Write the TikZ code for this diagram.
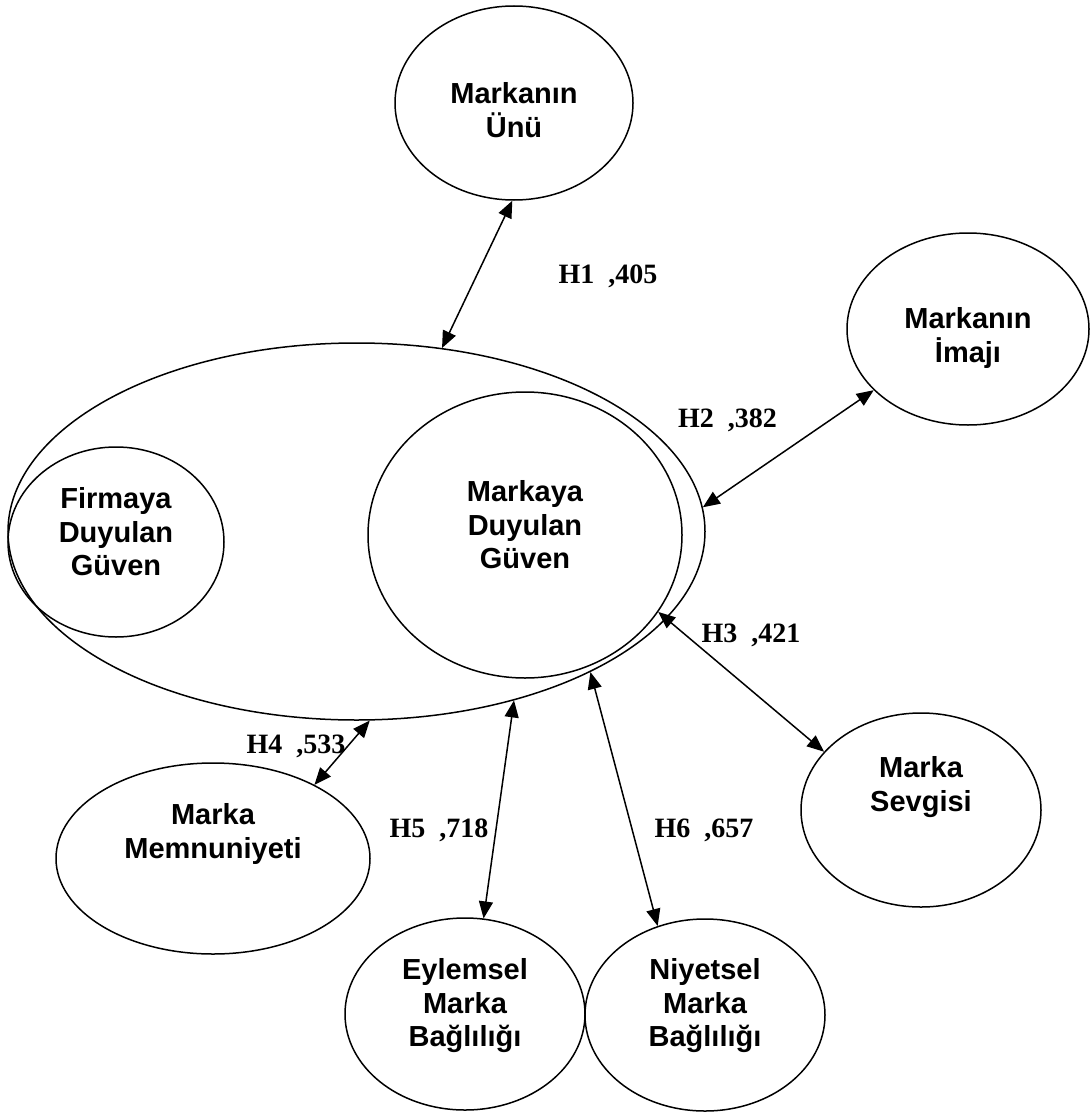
\documentclass[tikz,border=0pt]{standalone}
\usepackage{fontspec}
\setmainfont{Liberation Serif}
\setsansfont{Liberation Sans}
\usetikzlibrary{shapes.geometric,arrows.meta}
\begin{document}
\begin{tikzpicture}[x=1pt,y=-1pt,
  oval/.style={ellipse,draw,line width=1.5pt,inner sep=0pt},
  ovaltext/.style={align=center,inner sep=0pt,font=\sffamily\bfseries\fontsize{29}{33.5}\selectfont},
  hlabel/.style={anchor=base,inner sep=0pt,font=\rmfamily\bfseries\fontsize{28}{32}\selectfont},
  link/.style={line width=1.5pt,{Triangle[length=17pt,width=14pt]}-{Triangle[length=17pt,width=14pt]}}]
\fill[white] (0,0) rectangle (1091,1113);
\useasboundingbox (0,0) rectangle (1091,1113);
% shapes
\node[oval,minimum width=697pt,minimum height=377pt] (big) at (356.5,531.5) {};
\node[oval,minimum width=216pt,minimum height=190pt] (firma) at (116,542) {};
\node[oval,minimum width=314pt,minimum height=286pt] (markaya) at (525,535) {};
\node[oval,minimum width=238pt,minimum height=194pt] (unu) at (514,103) {};
\node[oval,minimum width=242pt,minimum height=192pt] (imaji) at (968,329) {};
\node[oval,minimum width=314pt,minimum height=191pt] (memn) at (213,858.5) {};
\node[oval,minimum width=240pt,minimum height=194pt] (sevgi) at (921,810) {};
\node[oval,minimum width=240pt,minimum height=192pt] (eylem) at (465,1014) {};
\node[oval,minimum width=240pt,minimum height=192pt] (niyet) at (705,1015) {};
% texts
\node[ovaltext] (unuT) at (514,110) {Markanın\\Ünü};
\node[ovaltext] (imajiT) at (968,338) {Markanın\\İmajı};
\node[ovaltext] (firmaT) at (116,532) {Firmaya\\Duyulan\\Güven};
\node[ovaltext] (markayaT) at (525,525) {Markaya\\Duyulan\\Güven};
\node[ovaltext] (memnT) at (213,834) {Marka\\Memnuniyeti};
\node[ovaltext] (sevgiT) at (921,787) {Marka\\Sevgisi};
\node[ovaltext] (eylemT) at (465,1006) {Eylemsel\\Marka\\Bağlılığı};
\node[ovaltext] (niyetT) at (705,1006) {Niyetsel\\Marka\\Bağlılığı};
% connectors
\draw[link] (big.65.6) -- (unu.-91);
\draw[link] (big.4) -- (imaji.-147.7);
\draw[link] (markaya.-30) -- (sevgi.149.3);
\draw[link] (big.-86.6) -- (memn.36.1);
\draw[link] (big.-47.6) -- (eylem.79.4);
\draw[link] (big.-31.9) -- (niyet.118.9);
% labels
\node[hlabel] (h1) at (608,283) {H1~~,405};
\node[hlabel] (h2) at (727.5,427) {H2~~,382};
\node[hlabel] (h3) at (751,642) {H3~~,421};
\node[hlabel] (h4) at (296,753) {H4~~,533};
\node[hlabel] (h5) at (439,837) {H5~~,718};
\node[hlabel] (h6) at (704,837) {H6~~,657};
\end{tikzpicture}
\end{document}
